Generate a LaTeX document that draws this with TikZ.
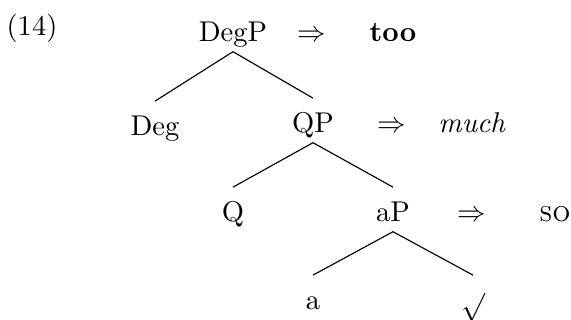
\documentclass[tikz,border=0pt]{standalone}
\usepackage{amsmath}
\usepackage{amssymb}
\usepackage{tikz}
\usetikzlibrary{positioning}

\begin{document}
\begin{tikzpicture}[x=0.35pt, y=-0.35pt,
    cat/.style={anchor=base, text height=8.8pt, text depth=0pt,
                inner xsep=2pt, inner ysep=3.2pt},
    spell/.style={anchor=base, inner sep=0pt}]
  \useasboundingbox (0,0) rectangle (571,320);
  \node[spell] (exno) at (32,36) {(14)};
  % tree
  \node[cat] (degp) at (233,42) {DegP};
  \node[cat] (deg) at (155,136) {Deg};
  \node[cat] (qp) at (313,133) {QP};
  \node[cat] (q) at (233,222) {Q};
  \node[cat] (ap) at (393,222) {aP};
  \node[cat] (a) at (313,310) {a};
  \node[cat] (root) at (473,310) {\raisebox{-1.8pt}{$\surd$}};
  \foreach \m/\d in {degp/deg, degp/qp, qp/q, qp/ap, ap/a, ap/root}
    \draw (\m.south) -- (\d.north);
  % spell-out
  \node[spell] (degp-arr) at (312,42) {$\Rightarrow$};
  \node[spell] (degp-word) at (393,42) {\textbf{too}};
  \node[spell] (qp-arr) at (392,133) {$\Rightarrow$};
  \node[spell] (qp-word) at (472,133) {\textit{much}};
  \node[spell] (ap-arr) at (472,222) {$\Rightarrow$};
  \node[spell] (ap-word) at (555,222) {\textsc{so}};
\end{tikzpicture}
\end{document}
